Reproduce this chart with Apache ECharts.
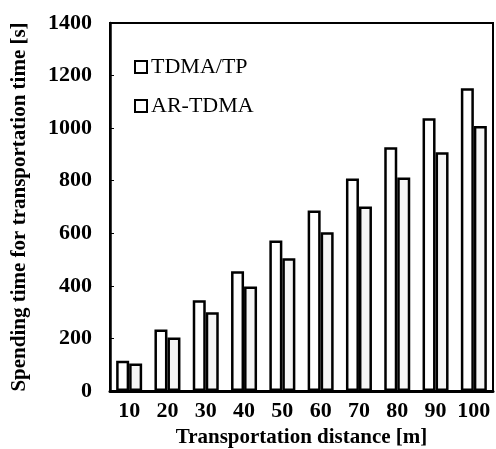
<!DOCTYPE html>
<html><head><meta charset="utf-8">
<script src="https://cdn.jsdelivr.net/npm/echarts@6/dist/echarts.min.js"></script>
<style>html,body{margin:0;padding:0;background:#fff}#c{width:496px;height:449px}</style>
</head><body><div id="c"></div>
<script>
const categories = ['10','20','30','40','50','60','70','80','90','100'];
const tdmaTP = [115, 234, 345, 456, 573, 687, 808, 927, 1038, 1152];
const arTDMA = [105, 204, 300, 398, 505, 604, 702, 812, 908, 1008];
const yTicks = [0, 200, 400, 600, 800, 1000, 1200, 1400];

const serif = '"Liberation Serif", "Times New Roman", serif';
const chart = echarts.init(document.getElementById('c'));
chart.setOption({
  animation: false,
  backgroundColor: '#fff',
  grid: {left: 110, right: 3, top: 23, bottom: 58, show: true, borderColor: '#000', borderWidth: 2,
         containLabel: false, outerBoundsMode: 'none'},
  legend: {
    orient: 'vertical', left: 129, top: 51, itemWidth: 12, itemHeight: 12, itemGap: 17,
    icon: 'rect',
    textStyle: {fontFamily: serif, fontSize: 22, color: '#000', padding: [0,0,0,-1]},
    data: [
      {name: 'TDMA/TP', itemStyle: {color: '#fff', borderColor: '#000', borderWidth: 2}},
      {name: 'AR-TDMA', itemStyle: {color: '#fff', borderColor: '#000', borderWidth: 2}}
    ]
  },
  xAxis: {
    type: 'category', data: categories,
    name: 'Transportation distance [m]', nameLocation: 'middle', nameGap: 32,
    nameTextStyle: {fontFamily: serif, fontSize: 21, fontWeight: 'bold', color: '#000'},
    axisLine: {lineStyle: {color: '#000', width: 3}},
    axisTick: {show: false},
    axisLabel: {interval: 0, fontFamily: serif, fontSize: 22, fontWeight: 'bold', color: '#000', margin: 9}
  },
  yAxis: {
    type: 'value', min: 0, max: 1400, interval: 200,
    name: 'Spending time for transportation time [s]', nameLocation: 'middle', nameGap: 80,
    nameTextStyle: {fontFamily: serif, fontSize: 21, fontWeight: 'bold', color: '#000'},
    axisLine: {show: true, lineStyle: {color: '#000', width: 2.5}},
    axisTick: {show: true, inside: true, length: 4, lineStyle: {color: '#000', width: 1}},
    splitLine: {show: false},
    axisLabel: {fontFamily: serif, fontSize: 22, fontWeight: 'bold', color: '#000', margin: 18,
      formatter: v => yTicks.includes(v) ? String(v) : ''}
  },
  series: [
    {name: 'TDMA/TP', type: 'bar', data: tdmaTP, barWidth: 13, barGap: '0%',
     itemStyle: {color: '#ffffff', borderColor: '#000', borderWidth: 2.5}},
    {name: 'AR-TDMA', type: 'bar', data: arTDMA, barWidth: 13,
     itemStyle: {color: '#f5f5f5', borderColor: '#000', borderWidth: 2.5}}
  ]
});
</script></body></html>
